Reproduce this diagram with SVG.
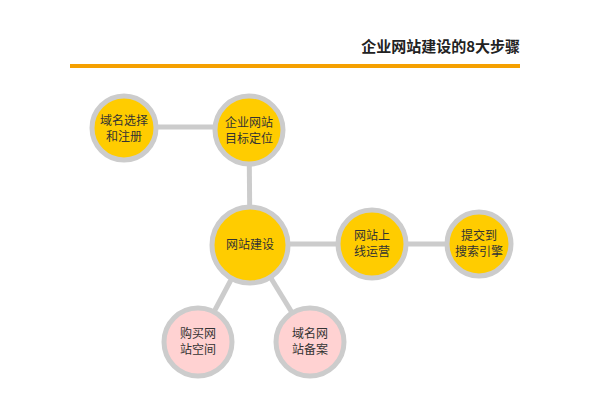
<svg xmlns="http://www.w3.org/2000/svg" width="600" height="420" viewBox="0 0 600 420">
<style>
.y{fill:#FFCC00;stroke:#CCCCCC;stroke-width:5}
.p{fill:#FFD2D2;stroke:#CCCCCC;stroke-width:5}
text{font-family:"Noto Sans CJK SC",sans-serif;font-size:12px;fill:#333;text-anchor:middle}
#conn line{stroke:#CCCCCC;stroke-width:5}
</style>
<rect width="600" height="420" fill="#fff"/>
<text x="520" y="52" style="font-size:15px;font-weight:bold;text-anchor:end;fill:#222">企业网站建设的8大步骤</text>
<rect x="70" y="64" width="450" height="4" fill="#F5A000"/>
<g id="conn">
<line x1="124" y1="127" x2="249" y2="127"/>
<line x1="249" y1="130" x2="250" y2="244"/>
<line x1="250" y1="244" x2="479" y2="244"/>
<line x1="250" y1="244" x2="198" y2="342"/>
<line x1="250" y1="244" x2="310" y2="342"/>
</g>
<g id="n1"><circle class="y" cx="124" cy="128" r="32"/><text x="124" y="125">域名选择</text><text x="124" y="141">和注册</text></g>
<g id="n2"><circle class="y" cx="249" cy="130" r="34"/><text x="249" y="127">企业网站</text><text x="249" y="143">目标定位</text></g>
<g id="n3"><circle class="y" cx="250" cy="245" r="38"/><text x="250" y="249">网站建设</text></g>
<g id="n4"><circle class="y" cx="372" cy="244" r="34"/><text x="372" y="240">网站上</text><text x="372" y="256">线运营</text></g>
<g id="n5"><circle class="y" cx="479" cy="244" r="32"/><text x="479" y="240">提交到</text><text x="479" y="256">搜索引擎</text></g>
<g id="n6"><circle class="p" cx="198" cy="342" r="34"/><text x="198" y="338">购买网</text><text x="198" y="354">站空间</text></g>
<g id="n7"><circle class="p" cx="310" cy="342" r="34"/><text x="310" y="338">域名网</text><text x="310" y="354">站备案</text></g>
</svg>
